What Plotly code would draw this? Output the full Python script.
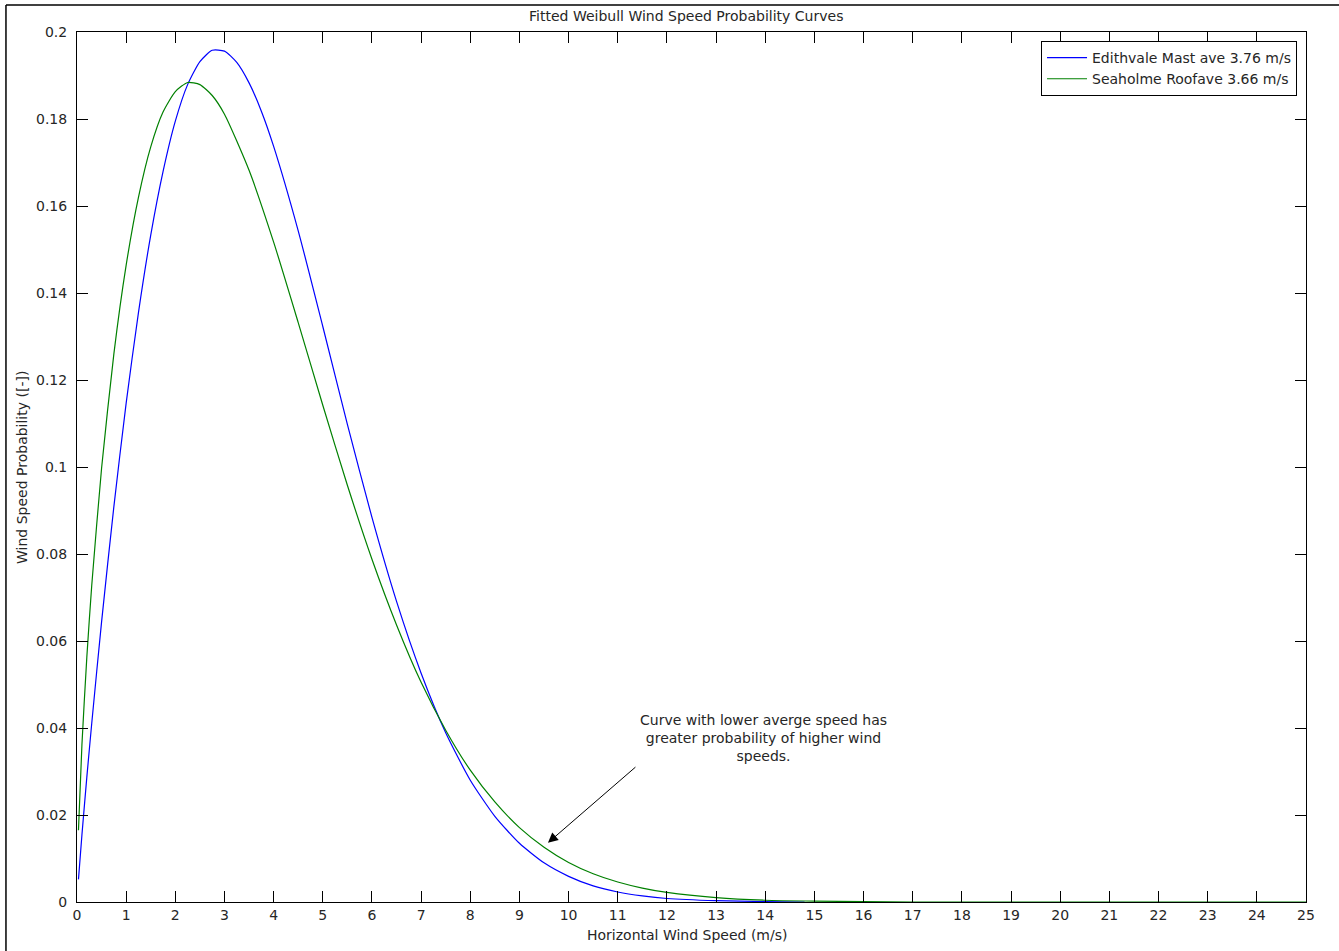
import plotly.graph_objects as go

# ---- data ----
edith_x = [0.03, 0.1, 0.2, 0.3, 0.5, 0.75, 1.0, 1.25, 1.5, 1.75, 2.0, 2.25, 2.5, 2.75, 3.0,
           3.25, 3.5, 3.75, 4.0, 4.5, 5.0, 5.5, 6.0, 6.5, 7.0, 7.5, 8.0, 8.5, 9.0, 9.5,
           10.0, 10.5, 11.0, 11.5, 12.0, 13.0, 14.0, 14.8]
edith_y = [0.0052, 0.0154, 0.0287, 0.0411, 0.0644, 0.0909, 0.1147, 0.1355, 0.1533, 0.1679,
           0.1795, 0.1879, 0.1932, 0.1958, 0.1956, 0.1930, 0.1883, 0.1818, 0.1737, 0.1543,
           0.1323, 0.1098, 0.0884, 0.0691, 0.0526, 0.0389, 0.0280, 0.0197, 0.0135, 0.0090,
           0.0059, 0.0037, 0.0023, 0.0014, 0.0008, 0.0003, 0.0001, 0.0]

seah_x = [0.03, 0.1, 0.2, 0.3, 0.5, 0.75, 1.0, 1.25, 1.5, 1.75, 2.0, 2.25, 2.5, 2.75, 3.0,
          3.5, 4.0, 4.5, 5.0, 5.5, 6.0, 6.5, 7.0, 7.5, 8.0, 8.5, 9.0, 9.5, 10.0, 10.5,
          11.0, 11.5, 12.0, 13.0, 14.0, 15.0, 16.0, 17.0, 18.0, 20.0, 22.0, 25.0]
seah_y = [0.0165, 0.0361, 0.0563, 0.0728, 0.0997, 0.1260, 0.1464, 0.1620, 0.1736, 0.1816,
          0.1863, 0.1884, 0.1879, 0.1854, 0.1811, 0.1682, 0.1517, 0.1332, 0.1142, 0.0958,
          0.0788, 0.0637, 0.0505, 0.0395, 0.0303, 0.0230, 0.0171, 0.0126, 0.0091, 0.0065,
          0.0046, 0.0032, 0.0022, 0.0010, 0.0004, 0.0002, 0.0001, 0.0, 0.0, 0.0, 0.0, 0.0]

series_names = ["Edithvale Mast ave 3.76 m/s", "Seaholme Roofave 3.66 m/s"]
x_ticks = list(range(0, 26))
y_ticks = [0, 0.02, 0.04, 0.06, 0.08, 0.1, 0.12, 0.14, 0.16, 0.18, 0.2]
y_tick_text = ["0", "0.02", "0.04", "0.06", "0.08", "0.1", "0.12", "0.14", "0.16", "0.18", "0.2"]

FONT = "DejaVu Sans, Verdana, sans-serif"
TXT = "#262626"

fig = go.Figure()
fig.add_trace(go.Scatter(x=edith_x, y=edith_y, mode="lines", name=series_names[0],
                         line=dict(color="#0000FF", width=1.2, shape="spline", smoothing=0.6)))
fig.add_trace(go.Scatter(x=seah_x, y=seah_y, mode="lines", name=series_names[1],
                         line=dict(color="#008000", width=1.2, shape="spline", smoothing=0.6)))

axis_common = dict(showgrid=False, zeroline=False, showline=True, linecolor="black", linewidth=1,
                   ticks="inside", ticklen=11, tickcolor="black", mirror="ticks",
                   tickfont=dict(family=FONT, size=14, color=TXT))

fig.update_xaxes(range=[0, 25], tickvals=x_ticks, ticktext=[str(v) for v in x_ticks], **axis_common)
fig.update_yaxes(range=[0, 0.2], tickvals=y_ticks, ticktext=y_tick_text,
                 ticklabelstandoff=6, **axis_common)

fig.update_layout(
    width=1339, height=951,
    margin=dict(l=77, r=33, t=32, b=49),
    paper_bgcolor="white", plot_bgcolor="white",
    font=dict(family=FONT, size=14, color=TXT),
    title=dict(text="Fitted Weibull Wind Speed Probability Curves", x=0.5125, xanchor="center",
               y=0.983, yanchor="middle", font=dict(family=FONT, size=14, color=TXT)),
    showlegend=True,
    legend=dict(x=0.9927, y=0.9897, xanchor="right", yanchor="top",
                bordercolor="black", borderwidth=1, bgcolor="white",
                font=dict(family=FONT, size=14, color=TXT), tracegroupgap=0,
                itemwidth=40),
)

# axis titles
fig.add_annotation(text="Horizontal Wind Speed (m/s)", xref="paper", yref="paper",
                   x=0.496, y=-0.0379, showarrow=False, xanchor="center", yanchor="middle",
                   font=dict(family=FONT, size=14, color=TXT))
fig.add_annotation(text="Wind Speed Probability ([-])", xref="paper", yref="paper",
                   x=-0.0448, y=0.5, showarrow=False, textangle=-90, xanchor="center",
                   yanchor="middle", font=dict(family=FONT, size=14, color=TXT))

# note text
fig.add_annotation(text="Curve with lower averge speed has<br>greater probability of higher wind<br>speeds.",
                   x=13.97, y=0.0378, xref="x", yref="y", showarrow=False, align="center",
                   font=dict(family=FONT, size=14, color=TXT))
# arrow
fig.add_annotation(text="", x=9.58, y=0.0136, ax=11.39, ay=0.0313, xref="x", yref="y",
                   axref="x", ayref="y", showarrow=True, arrowhead=2, arrowsize=2,
                   arrowwidth=1, arrowcolor="black")

# outer frame (left and top edges visible)
fig.add_shape(type="line", xref="paper", yref="paper", x0=-0.0578, y0=1.031, x1=-0.0578, y1=-0.06,
              line=dict(color="black", width=1.5))
fig.add_shape(type="line", xref="paper", yref="paper", x0=-0.0578, y0=1.031, x1=1.03, y1=1.031,
              line=dict(color="black", width=1.5))

fig.write_html("out.html")
